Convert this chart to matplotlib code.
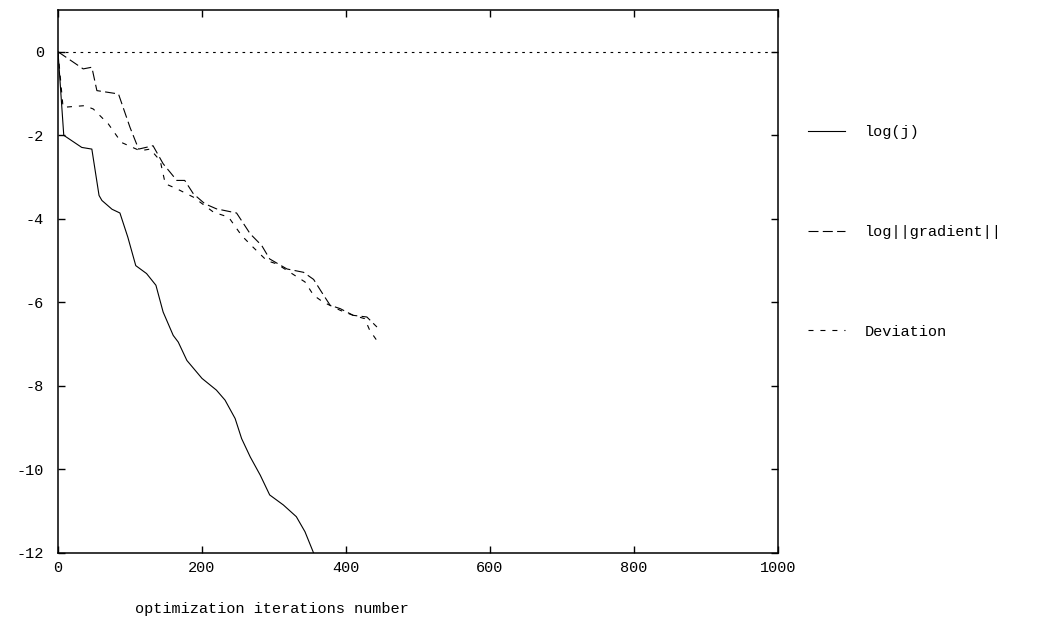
import matplotlib
matplotlib.use('Agg')
import matplotlib.pyplot as plt

plt.rcParams['font.family'] = 'Liberation Mono'
plt.rcParams['lines.scale_dashes'] = False
plt.rcParams['axes.unicode_minus'] = False

# log(j)
logj_x = [0, 8, 33, 47, 57, 61, 75, 86, 97, 108, 123, 136, 146, 160, 167, 179,
          200, 220, 232, 246, 255, 267, 281, 294, 313, 331, 343, 355]
logj_y = [0, -2.0, -2.29, -2.33, -3.44, -3.56, -3.77, -3.86, -4.44, -5.12, -5.31,
          -5.59, -6.23, -6.79, -6.95, -7.39, -7.82, -8.10, -8.34, -8.78, -9.26,
          -9.70, -10.14, -10.61, -10.85, -11.13, -11.49, -12.0]

# log||gradient||
grad_x = [0, 35, 47, 54, 84, 100, 112, 132, 146, 165, 176, 188, 204, 220, 248,
          267, 283, 294, 318, 341, 355, 366, 378, 392, 410, 429, 443]
grad_y = [0, -0.41, -0.37, -0.93, -1.01, -1.81, -2.33, -2.25, -2.68, -3.08, -3.08,
          -3.40, -3.64, -3.76, -3.86, -4.36, -4.64, -4.96, -5.20, -5.28, -5.45,
          -5.75, -6.07, -6.15, -6.31, -6.35, -6.59]

# Deviation
dev_x = [0, 7, 37, 49, 70, 88, 114, 128, 142, 149, 165, 188, 216, 237, 255, 271,
         290, 304, 343, 355, 368, 392, 410, 426, 433, 446]
dev_y = [0, -1.33, -1.29, -1.37, -1.73, -2.17, -2.37, -2.33, -2.61, -3.16, -3.28,
         -3.48, -3.84, -3.96, -4.40, -4.68, -5.0, -5.08, -5.51, -5.83, -5.99,
         -6.19, -6.31, -6.39, -6.67, -6.99]

xticks = [0, 200, 400, 600, 800, 1000]
yticks = [0, -2, -4, -6, -8, -10, -12]

fig = plt.figure(figsize=(10.62, 6.25), dpi=100)
ax = fig.add_axes([58 / 1062, 1 - 553 / 625, 720 / 1062, 543 / 625])

ax.axhline(0, color='black', lw=0.8, dashes=(1.9, 3.4))
ax.plot(logj_x, logj_y, color='black', lw=0.8, label='log(j)')
ax.plot(grad_x, grad_y, color='black', lw=0.8, dashes=(7.2, 3.1), label='log||gradient||')
ax.plot(dev_x, dev_y, color='black', lw=0.8, dashes=(3.6, 5), label='Deviation')

ax.set_xlim(0, 1000)
ax.set_ylim(-12, 1)
ax.set_xticks(xticks)
ax.set_yticks(yticks)
ax.tick_params(direction='in', length=5, width=1, top=True, right=True, labelsize=11)
ax.tick_params(axis='y', pad=10)
ax.tick_params(axis='x', pad=6)
for s in ax.spines.values():
    s.set_linewidth(1.1)

# label sits left of the axes centre, as in the original
ax.set_xlabel('optimization iterations number', fontsize=11)
ax.xaxis.set_label_coords(0.297, -0.091)

fig.legend(loc='center left', bbox_to_anchor=(808 / 1062, 1 - 232 / 625),
           frameon=False, fontsize=11, handlelength=2.4, handletextpad=1.3,
           labelspacing=5.6, borderpad=0, borderaxespad=0)

fig.savefig('out.png', dpi=100)
